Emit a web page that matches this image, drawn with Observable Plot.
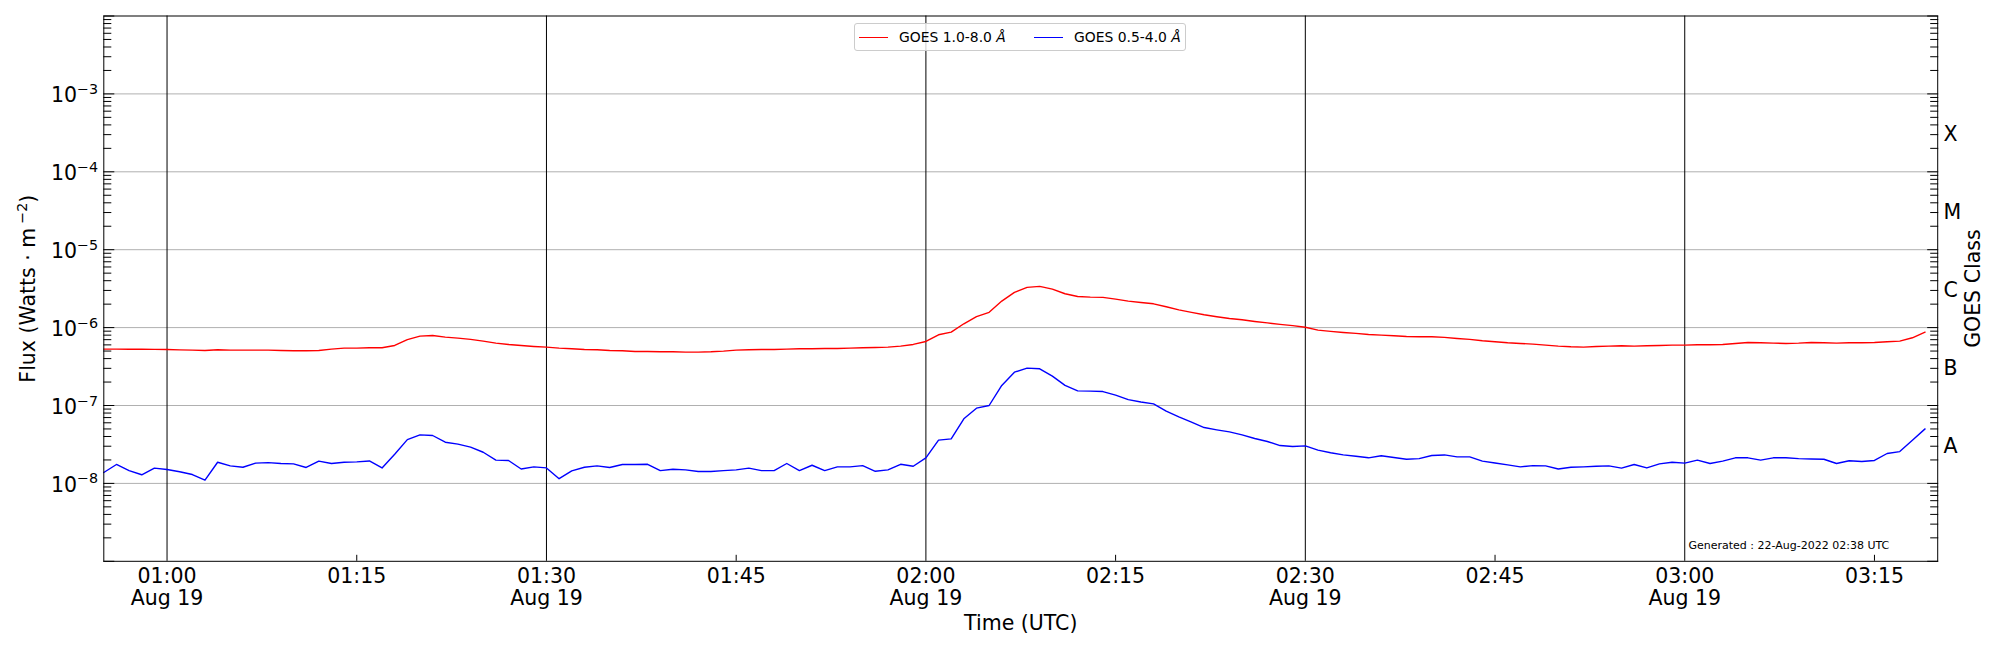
<!DOCTYPE html>
<html>
<head>
<meta charset="utf-8">
<script src="https://cdn.jsdelivr.net/npm/d3@7"></script>
<script src="https://cdn.jsdelivr.net/npm/@observablehq/plot@0.6"></script>
<style>
  body { margin: 0; background: #fff; font-family: "DejaVu Sans", sans-serif; }
  #wrap { position: relative; width: 2000px; height: 650px; }
  .lgbox { position: absolute; left: 854.3px; top: 22.7px; width: 329.7px; height: 26px;
           border: 1px solid #cccccc; border-radius: 3px; background: rgba(255,255,255,0.8); }
  .sw { position: absolute; height: 1.5px; width: 28.7px; }
  .lt { position: absolute; font-size: 13.9px; line-height: 16px; white-space: nowrap; color: #000; }
</style>
</head>
<body>
<div id="wrap"></div>
<script>
// ---- data (1-minute GOES XRS fluxes, W/m^2) ----
const startTime = "2022-08-19T00:55:00Z";   // first sample
const cadenceMinutes = 1;

const goesLong = [ // GOES 1.0-8.0 Å
 5.30e-7,5.30e-7,5.28e-7,5.27e-7,5.26e-7,5.24e-7,5.18e-7,5.14e-7,5.09e-7,5.19e-7,
 5.14e-7,5.14e-7,5.14e-7,5.14e-7,5.09e-7,5.04e-7,5.04e-7,5.09e-7,5.30e-7,5.45e-7,
 5.45e-7,5.51e-7,5.51e-7,5.90e-7,7.00e-7,7.78e-7,7.93e-7,7.55e-7,7.33e-7,7.05e-7,
 6.71e-7,6.32e-7,6.08e-7,5.90e-7,5.73e-7,5.61e-7,5.45e-7,5.35e-7,5.24e-7,5.19e-7,
 5.09e-7,5.04e-7,4.94e-7,4.94e-7,4.89e-7,4.89e-7,4.84e-7,4.84e-7,4.89e-7,4.99e-7,
 5.14e-7,5.19e-7,5.24e-7,5.24e-7,5.30e-7,5.35e-7,5.35e-7,5.40e-7,5.40e-7,5.45e-7,
 5.51e-7,5.56e-7,5.61e-7,5.78e-7,6.08e-7,6.64e-7,8.09e-7,8.75e-7,1.12e-6,1.38e-6,
 1.57e-6,2.19e-6,2.83e-6,3.28e-6,3.38e-6,3.12e-6,2.72e-6,2.51e-6,2.46e-6,2.44e-6,
 2.32e-6,2.19e-6,2.10e-6,2.02e-6,1.85e-6,1.69e-6,1.57e-6,1.46e-6,1.38e-6,1.31e-6,
 1.26e-6,1.20e-6,1.15e-6,1.10e-6,1.06e-6,1.01e-6,9.29e-7,8.94e-7,8.67e-7,8.42e-7,
 8.17e-7,8.01e-7,7.85e-7,7.70e-7,7.62e-7,7.62e-7,7.48e-7,7.26e-7,7.05e-7,6.77e-7,
 6.58e-7,6.39e-7,6.26e-7,6.14e-7,5.96e-7,5.78e-7,5.67e-7,5.61e-7,5.73e-7,5.78e-7,
 5.84e-7,5.78e-7,5.84e-7,5.90e-7,5.96e-7,5.96e-7,6.02e-7,6.02e-7,6.08e-7,6.26e-7,
 6.45e-7,6.39e-7,6.32e-7,6.26e-7,6.32e-7,6.45e-7,6.39e-7,6.32e-7,6.39e-7,6.39e-7,
 6.45e-7,6.58e-7,6.71e-7,7.40e-7,8.75e-7
];

const goesShort = [ // GOES 0.5-4.0 Å
 1.38e-8,1.75e-8,1.46e-8,1.29e-8,1.57e-8,1.51e-8,1.41e-8,1.30e-8,1.10e-8,1.87e-8,
 1.68e-8,1.61e-8,1.82e-8,1.85e-8,1.80e-8,1.78e-8,1.60e-8,1.93e-8,1.80e-8,1.87e-8,
 1.89e-8,1.94e-8,1.58e-8,2.37e-8,3.65e-8,4.20e-8,4.12e-8,3.38e-8,3.19e-8,2.92e-8,
 2.51e-8,1.99e-8,1.97e-8,1.53e-8,1.63e-8,1.58e-8,1.15e-8,1.45e-8,1.61e-8,1.68e-8,
 1.60e-8,1.75e-8,1.75e-8,1.76e-8,1.46e-8,1.52e-8,1.49e-8,1.42e-8,1.42e-8,1.46e-8,
 1.49e-8,1.57e-8,1.46e-8,1.46e-8,1.80e-8,1.46e-8,1.71e-8,1.46e-8,1.63e-8,1.63e-8,
 1.69e-8,1.43e-8,1.49e-8,1.76e-8,1.66e-8,2.13e-8,3.59e-8,3.73e-8,6.75e-8,9.24e-8,
 1.00e-7,1.81e-7,2.68e-7,3.02e-7,2.96e-7,2.38e-7,1.81e-7,1.54e-7,1.53e-7,1.51e-7,
 1.36e-7,1.19e-7,1.11e-7,1.05e-7,8.46e-8,7.15e-8,6.11e-8,5.21e-8,4.87e-8,4.59e-8,
 4.20e-8,3.77e-8,3.45e-8,3.06e-8,2.97e-8,3.03e-8,2.67e-8,2.47e-8,2.32e-8,2.23e-8,
 2.13e-8,2.26e-8,2.15e-8,2.04e-8,2.08e-8,2.28e-8,2.32e-8,2.19e-8,2.19e-8,1.93e-8,
 1.83e-8,1.73e-8,1.63e-8,1.69e-8,1.68e-8,1.53e-8,1.61e-8,1.63e-8,1.66e-8,1.68e-8,
 1.57e-8,1.75e-8,1.58e-8,1.78e-8,1.87e-8,1.82e-8,1.99e-8,1.80e-8,1.93e-8,2.13e-8,
 2.13e-8,1.99e-8,2.13e-8,2.13e-8,2.08e-8,2.06e-8,2.04e-8,1.80e-8,1.95e-8,1.91e-8,
 1.97e-8,2.42e-8,2.56e-8,3.59e-8,5.01e-8
];

const xDomain = ["2022-08-19T00:55:00Z", "2022-08-19T03:20:00Z"];
const yDomain = [1e-9, 1e-2];
const halfHourTicks = ["2022-08-19T01:00:00Z","2022-08-19T01:30:00Z","2022-08-19T02:00:00Z","2022-08-19T02:30:00Z","2022-08-19T03:00:00Z"];
const quarterHourTicks = ["2022-08-19T01:15:00Z","2022-08-19T01:45:00Z","2022-08-19T02:15:00Z","2022-08-19T02:45:00Z","2022-08-19T03:15:00Z"];
const yLabelExponents = [-8, -7, -6, -5, -4, -3];
const yGridExponents = [-8, -7, -6, -5, -4, -3];
const yMajorExponents = [-9, -8, -7, -6, -5, -4, -3, -2];
const minorMultipliers = [2, 3, 4, 5, 6, 7, 8, 9];
const goesClasses = ["A", "B", "C", "M", "X"];
const goesClassExponents = [-7.5, -6.5, -5.5, -4.5, -3.5];
const legendLabels = ["GOES 1.0-8.0 ", "GOES 0.5-4.0 "];
const generatedText = "Generated : 22-Aug-2022 02:38 UTC";

// ---- build table ----
const t0 = new Date(startTime).getTime();
const rows = goesLong.map((v, i) => ({
  time: new Date(t0 + i * cadenceMinutes * 60000),
  long: v,
  short: goesShort[i]
}));
const toDate = s => new Date(s);
const pow10 = e => Math.pow(10, e);
const majorTicks = yMajorExponents.map(pow10);
const minorTicks = [];
for (let e = -9; e <= -3; e++) for (const m of minorMultipliers) minorTicks.push(m * pow10(e));
const allQuarter = [...halfHourTicks, ...quarterHourTicks].map(toDate).sort((a, b) => a - b);
const halfSet = new Set(halfHourTicks.map(s => +new Date(s)));
const fmtHM = d3.utcFormat("%H:%M");
const fmtMD = d3.utcFormat("%b %d");
const classRows = goesClasses.map((c, i) => ({c, y: pow10(goesClassExponents[i])}));

const F = 20.5;
const plot = Plot.plot({
  width: 2000,
  height: 650,
  marginLeft: 103.3,
  marginRight: 62.8,
  marginTop: 15.5,
  marginBottom: 89.2,
  style: {fontFamily: "DejaVu Sans", fontSize: "20px", background: "white", color: "black", overflow: "visible"},
  x: {type: "utc", domain: xDomain.map(toDate), axis: null},
  y: {type: "log", domain: yDomain, axis: null},
  marks: [
    Plot.ruleY(yGridExponents.map(pow10), {stroke: "#b0b0b0", strokeWidth: 1}),
    Plot.ruleX(halfHourTicks.map(toDate), {stroke: "black", strokeWidth: 1}),
    Plot.line(rows, {x: "time", y: "long", stroke: "#ff0000", strokeWidth: 1.4}),
    Plot.line(rows, {x: "time", y: "short", stroke: "#0000ff", strokeWidth: 1.4}),
    Plot.frame({stroke: "black", strokeWidth: 1}),
    // inward ticks
    Plot.axisY(majorTicks, {anchor: "left", tickSize: -11, tickFormat: () => "", label: null}),
    Plot.axisY(minorTicks, {anchor: "left", tickSize: -8, tickFormat: () => "", label: null}),
    Plot.axisY(majorTicks, {anchor: "right", tickSize: -11, tickFormat: () => "", label: null}),
    Plot.axisY(minorTicks, {anchor: "right", tickSize: -8, tickFormat: () => "", label: null}),
    Plot.axisX(quarterHourTicks.map(toDate), {anchor: "bottom", tickSize: -6, tickFormat: () => "", label: null}),
    // tick labels
    Plot.axisY(yLabelExponents.map(pow10), {
      anchor: "left", tickSize: 0, tickPadding: 5.6, fontSize: F, dy: 1.8, label: null,
      tickFormat: d => "10{\u2212" + (-Math.round(Math.log10(d))) + "}"
    }),
    Plot.axisX(allQuarter, {
      anchor: "bottom", tickSize: 0, tickPadding: 5.5, fontSize: F, lineHeight: 1.1, label: null,
      tickFormat: d => halfSet.has(+d) ? fmtHM(d) + "\n" + fmtMD(d) : fmtHM(d)
    }),
    Plot.text(classRows, {y: "y", text: "c", frameAnchor: "right", dx: 5.8, dy: 2, textAnchor: "start", lineAnchor: "middle", fontSize: F}),
    Plot.text(["Time (UTC)"], {text: d => d, frameAnchor: "bottom", dy: 62.5, textAnchor: "middle", lineAnchor: "middle", fontSize: F}),
    Plot.text(["Flux (Watts \u00b7 m[\u22122])"], {text: d => d, frameAnchor: "left", dx: -75.3, rotate: -90, textAnchor: "middle", lineAnchor: "middle", fontSize: F}),
    Plot.text(["GOES Class"], {text: d => d, frameAnchor: "right", dx: 35.3, rotate: -90, textAnchor: "middle", lineAnchor: "middle", fontSize: F}),
    Plot.text([generatedText], {text: d => d, frameAnchor: "bottom-right", dx: -249.2, dy: -12.3, textAnchor: "start", lineAnchor: "bottom", fontSize: 11})
  ]
});

// superscripts: text inside {...} (tight) or [...] (math-spaced) becomes a raised, smaller tspan
const NS = "http://www.w3.org/2000/svg";
plot.querySelectorAll("text").forEach(el => {
  const s = el.textContent;
  if (!/[\{\[]/.test(s) || el.querySelector("tspan")) return;
  el.textContent = "";
  let raised = false;
  for (const p of s.split(/(\{[^}]*\}|\[[^\]]*\])/)) {
    if (!p) continue;
    const ts = document.createElementNS(NS, "tspan");
    if (p.startsWith("{") || p.startsWith("[")) {
      ts.textContent = p.slice(1, -1);
      ts.setAttribute("font-size", "14.3");
      ts.setAttribute("dy", "-8.3");
      if (p.startsWith("[")) ts.setAttribute("dx", "4");
      raised = true;
    } else {
      ts.textContent = p;
      if (raised) { ts.setAttribute("dy", "8.3"); raised = false; }
    }
    el.appendChild(ts);
  }
});

const wrap = document.getElementById("wrap");
wrap.appendChild(plot);

// legend (inside axes, top centre)
const lg = document.createElement("div");
lg.className = "lgbox";
wrap.appendChild(lg);
const legendColors = ["#ff0000", "#0000ff"];
const swLeft = [859, 1034.3], txLeft = [899, 1074];
legendLabels.forEach((lab, i) => {
  const sw = document.createElement("div");
  sw.className = "sw";
  sw.style.left = swLeft[i] + "px"; sw.style.top = "36.5px"; sw.style.background = legendColors[i];
  wrap.appendChild(sw);
  const tx = document.createElement("div");
  tx.className = "lt";
  tx.style.left = txLeft[i] + "px"; tx.style.top = "29.3px";
  tx.innerHTML = lab + "<i>\u00c5</i>";
  wrap.appendChild(tx);
});
</script>
</body>
</html>
